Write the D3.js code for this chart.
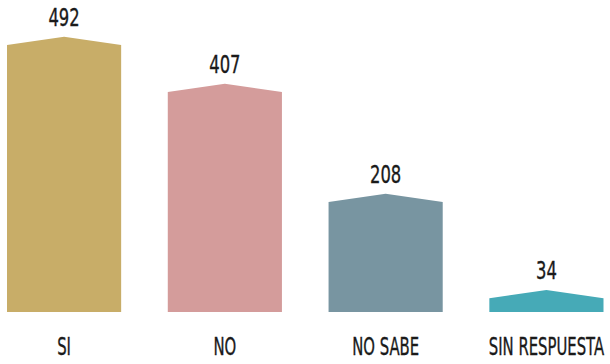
<!DOCTYPE html>
<html><head><meta charset="utf-8">
<script src="https://cdn.jsdelivr.net/npm/d3@7/dist/d3.min.js"></script>
<style>html,body{margin:0;padding:0;background:#fff;}svg{display:block;}</style>
</head><body>
<script>
const categories = ["SI", "NO", "NO SABE", "SIN RESPUESTA"];
const values = [492, 407, 208, 34];
const colors = ["#C8AD68", "#D49C9B", "#7895A1", "#46AAB7"];

const W = 610, H = 364;
const baseY = 312;
const svg = d3.select("body").append("svg").attr("width", W).attr("height", H);

const x = d3.scaleBand().domain(categories).range([7, 603.5]).paddingInner(0.29).paddingOuter(0);
const y = d3.scaleLinear().domain([0, 492]).range([308.8, 36.7]);
const cap = 8.3;

svg.selectAll("path.bar").data(categories).join("path")
  .attr("class", "bar")
  .attr("fill", (d, i) => colors[i])
  .attr("d", (d, i) => {
    const x0 = x(d), x1 = x(d) + x.bandwidth(), xm = x0 + x.bandwidth() / 2;
    const py = y(values[i]);
    const sy = Math.min(py + cap, baseY);
    return `M${x0},${baseY}L${x0},${sy}L${xm},${py}L${x1},${sy}L${x1},${baseY}Z`;
  });

const font = "'DejaVu Sans Condensed','Liberation Sans Narrow',sans-serif";

svg.selectAll("text.val").data(categories).join("text")
  .attr("class", "val")
  .attr("transform", (d, i) => `translate(${x(d) + x.bandwidth() / 2},${y(values[i]) - 10.5}) scale(0.73,1)`)
  .attr("text-anchor", "middle")
  .style("font-family", font).style("font-size", "25px").attr("fill", "#1a1a1a")
  .attr("stroke", "#1a1a1a").attr("stroke-width", 0.35)
  .text((d, i) => values[i]);

svg.selectAll("text.cat").data(categories).join("text")
  .attr("class", "cat")
  .attr("transform", d => `translate(${x(d) + x.bandwidth() / 2},355) scale(0.66,1)`)
  .attr("text-anchor", "middle")
  .style("font-family", font).style("font-size", "25px").attr("fill", "#1a1a1a")
  .attr("stroke", "#1a1a1a").attr("stroke-width", 0.35)
  .text(d => d);
</script>
</body></html>
